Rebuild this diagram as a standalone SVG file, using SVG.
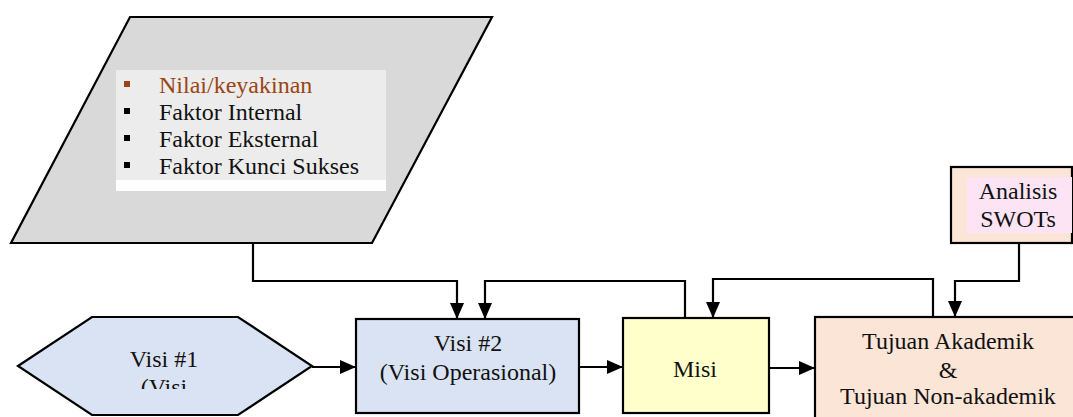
<svg xmlns="http://www.w3.org/2000/svg" width="1073" height="417" viewBox="0 0 1073 417">
<style>
text{font-family:"Liberation Serif","Times New Roman",serif;font-size:24px;fill:#111}
.c{text-anchor:middle}
.box{stroke:#000;stroke-width:2.2}
.con{fill:none;stroke:#000;stroke-width:2.2}
</style>
<defs>
<marker id="ah" markerUnits="userSpaceOnUse" markerWidth="16" markerHeight="14" refX="16" refY="7" orient="auto">
<path d="M0,0 L16,7 L0,14 z" fill="#000"/>
</marker>
<clipPath id="hexclip"><rect x="0" y="300" width="360" height="89"/></clipPath>
</defs>
<rect width="1073" height="417" fill="#fff"/>
<g id="faktor">
<polygon class="box" points="130,17 492,17 372,243 11,243" fill="#d9d9d9"/>
<rect x="116" y="70" width="270" height="121" fill="#fff"/>
<rect x="116" y="70" width="270" height="110" fill="#ececec"/>
<rect x="124" y="81" width="6" height="6" fill="#9a4515"/>
<text x="159" y="93" style="fill:#9a4515">Nilai/keyakinan</text>
<rect x="124" y="108" width="6" height="6" fill="#000"/>
<text x="159" y="120">Faktor Internal</text>
<rect x="124" y="135" width="6" height="6" fill="#000"/>
<text x="159" y="147">Faktor Eksternal</text>
<rect x="124" y="162" width="6" height="6" fill="#000"/>
<text x="159" y="174">Faktor Kunci Sukses</text>
</g>
<g id="visi1">
<polygon class="box" points="18,366 92,317 238,317 312,366 238,415 92,415" fill="#dae3f3"/>
<g clip-path="url(#hexclip)">
<text class="c" x="164" y="367">Visi #1</text>
<text class="c" x="164" y="395">(Visi</text>
</g>
</g>
<g id="visi2">
<rect class="box" x="356" y="319" width="223" height="94" fill="#dae3f3"/>
<text class="c" x="468" y="351">Visi #2</text>
<text class="c" x="468" y="380">(Visi Operasional)</text>
</g>
<g id="misi">
<rect class="box" x="623" y="318" width="146" height="95" fill="#ffffcc"/>
<text class="c" x="695" y="377">Misi</text>
</g>
<g id="tujuan">
<rect class="box" x="815" y="317" width="280" height="120" fill="#fbe5d6"/>
<text class="c" x="948" y="349">Tujuan Akademik</text>
<text class="c" x="948" y="378">&amp;</text>
<text class="c" x="948" y="404">Tujuan Non-akademik</text>
</g>
<g id="swot">
<rect class="box" x="951" y="167" width="121" height="76" fill="#fbe5d6"/>
<rect x="967" y="177" width="105" height="56" fill="#fce4f4"/>
<text class="c" x="1018" y="199">Analisis</text>
<text class="c" x="1018" y="227">SWOTs</text>
</g>
<g id="connectors">
<polyline class="con" points="253,243 253,281 457,281 457,319" marker-end="url(#ah)"/>
<polyline class="con" points="685,318 685,281 485,281 485,319" marker-end="url(#ah)"/>
<polyline class="con" points="933,317 933,279 713,279 713,318" marker-end="url(#ah)"/>
<polyline class="con" points="1019,243 1019,281 955,281 955,317" marker-end="url(#ah)"/>
<line class="con" x1="312" y1="367" x2="356" y2="367" marker-end="url(#ah)"/>
<line class="con" x1="579" y1="367" x2="623" y2="367" marker-end="url(#ah)"/>
<line class="con" x1="769" y1="368" x2="815" y2="368" marker-end="url(#ah)"/>
</g>
</svg>
